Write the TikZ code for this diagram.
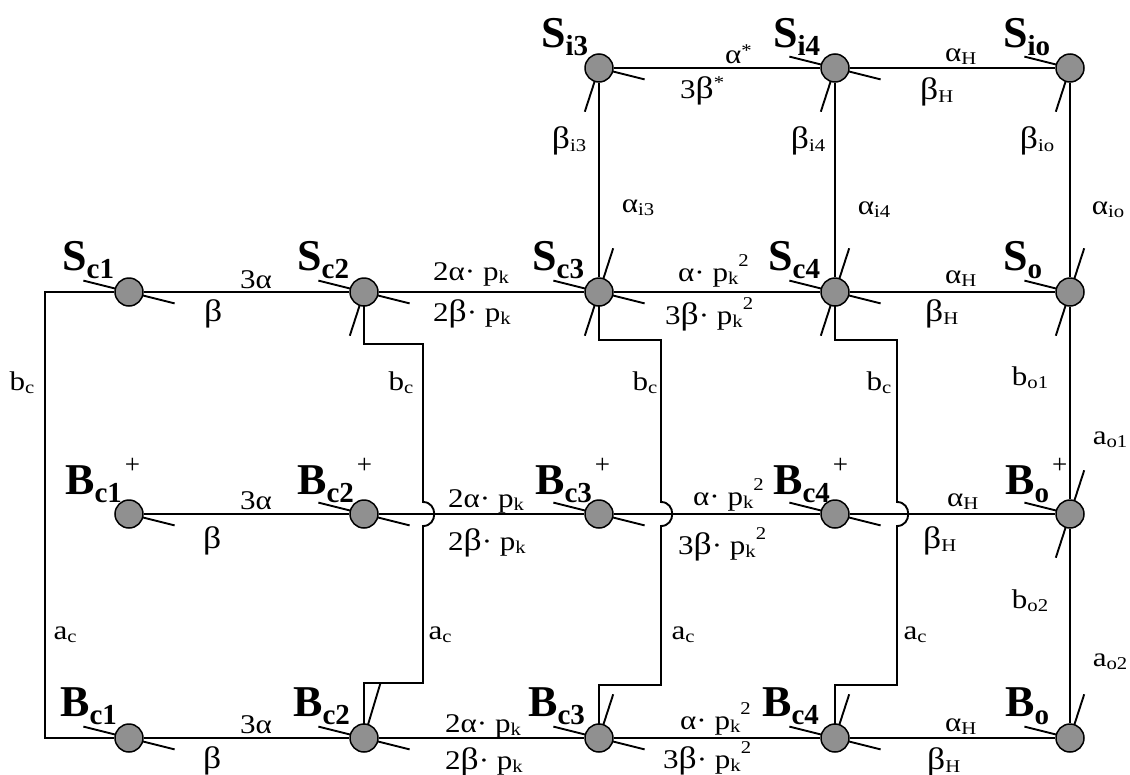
\documentclass[tikz,border=0pt]{standalone}
\usepackage{fontspec}
\usepackage{graphicx}
\setmainfont{Liberation Serif}
\usetikzlibrary{backgrounds}
\definecolor{nodegray}{RGB}{144,144,144}
\newcommand\sbs[1]{\raisebox{-3pt}{\fontsize{18}{18}\selectfont #1}}
\newcommand\sps[1]{\raisebox{15pt}{\fontsize{18}{18}\selectfont #1}}
\newcommand\lt[1]{\scalebox{1.15}[1]{\fontsize{27}{27}\selectfont #1}}
\newcommand\bt{{\fontsize{31}{31}\selectfont β}}
\newcommand\nlab[2]{{\fontsize{44}{44}\selectfont\bfseries #1\raisebox{-8pt}{\fontsize{29}{29}\selectfont #2}}}
\newcommand\nlabp[2]{\nlab{#1}{#2}\hspace{3pt}\raisebox{21pt}{\fontsize{27}{27}\selectfont +}}
\begin{document}
\begin{tikzpicture}[x=1pt,y=-1pt,
  place/.style={circle,minimum size=28pt,inner sep=0pt,fill=nodegray,draw=black,line width=1.5pt},
  wire/.style={line width=1.9pt},
  tickline/.style={line width=1.9pt},
  nlbl/.style={anchor=base west,inner sep=0pt},
  elbl/.style={anchor=base west,inner sep=0pt},
  vlbl/.style={anchor=center,inner sep=0pt}]
\useasboundingbox (0,0) rectangle (1130,774);
% places
\node[place] (Sc1) at (129,292) {};
\node[place] (Sc2) at (364,292) {};
\node[place] (Sc3) at (599,292) {};
\node[place] (Sc4) at (835,292) {};
\node[place] (So)  at (1070,292) {};
\node[place] (Si3) at (599,68) {};
\node[place] (Si4) at (835,68) {};
\node[place] (Sio) at (1070,68) {};
\node[place] (Bp1) at (129,514) {};
\node[place] (Bp2) at (364,514) {};
\node[place] (Bp3) at (599,514) {};
\node[place] (Bp4) at (835,514) {};
\node[place] (Bpo) at (1070,514) {};
\node[place] (Bc1) at (129,738) {};
\node[place] (Bc2) at (364,738) {};
\node[place] (Bc3) at (599,738) {};
\node[place] (Bc4) at (835,738) {};
\node[place] (Bo)  at (1070,738) {};
% corner coordinates
\coordinate (L1) at (45,292);
\coordinate (c2a) at (364,344); \coordinate (c2b) at (423,344);
\coordinate (c2c) at (423,502); \coordinate (c2d) at (423,526);
\coordinate (c2e) at (423,683); \coordinate (c2f) at (364,683);
\coordinate (c3a) at (599,340); \coordinate (c3b) at (661,340);
\coordinate (c3c) at (661,502); \coordinate (c3d) at (661,526);
\coordinate (c3e) at (661,685); \coordinate (c3f) at (599,685);
\coordinate (c4a) at (835,340); \coordinate (c4b) at (897,340);
\coordinate (c4c) at (897,502); \coordinate (c4d) at (897,526);
\coordinate (c4e) at (897,685); \coordinate (c4f) at (835,685);
\begin{pgfonlayer}{background}
% horizontal wires
\draw[wire] (Sc1) -- (Sc2) -- (Sc3) -- (Sc4) -- (So);
\draw[wire] (Si3) -- (Si4) -- (Sio);
\draw[wire] (Bp1) -- (Bp2) -- (Bp3) -- (Bp4) -- (Bpo);
\draw[wire] (Bc1) -- (Bc2) -- (Bc3) -- (Bc4) -- (Bo);
% vertical wires
\draw[wire] (Si3) -- (Sc3);
\draw[wire] (Si4) -- (Sc4);
\draw[wire] (Sio) -- (So) -- (Bpo) -- (Bo);
\draw[wire] (Sc1) -- (L1) |- (Bc1);
\draw[wire] (Sc2.center) -- (c2a) -- (c2b) -- (c2c) .. controls +(15,0) and +(15,0) .. (c2d) -- (c2e) -- (c2f) -- (Bc2.center);
\draw[wire] (Sc3.center) -- (c3a) -- (c3b) -- (c3c) .. controls +(15,0) and +(15,0) .. (c3d) -- (c3e) -- (c3f) -- (Bc3.center);
\draw[wire] (Sc4.center) -- (c4a) -- (c4b) -- (c4c) .. controls +(15,0) and +(15,0) .. (c4d) -- (c4e) -- (c4f) -- (Bc4.center);
% ticks
\foreach \n in {Sc1,Sc2,Sc3,Sc4,So,Si4,Sio,Bp2,Bp3,Bp4,Bpo,Bc1,Bc2,Bc3,Bc4,Bo}
  \draw[tickline] (\n.center) -- ++(-45.6,-11.4);
\foreach \n in {Sc1,Sc2,Sc3,Sc4,Si3,Si4,Bp1,Bp2,Bp3,Bp4,Bc1,Bc2,Bc3,Bc4}
  \draw[tickline] (\n.center) -- ++(45.6,11.4);
\foreach \n in {Sc3,Sc4,So,Bpo,Bc3,Bc4,Bo}
  \draw[tickline] (\n.center) -- ++(14.2,-43.7);
\draw[tickline] (Bc2.center) -- ++(16.5,-55);
\foreach \n in {Sc2,Sc3,Sc4,So,Si3,Si4,Sio,Bpo}
  \draw[tickline] (\n.center) -- ++(-14.2,43.7);
\end{pgfonlayer}
% place labels
\node[nlbl] (lSc1) at (62,270) {\nlab{S}{c1}};
\node[nlbl] (lSc2) at (297,270) {\nlab{S}{c2}};
\node[nlbl] (lSc3) at (532,270) {\nlab{S}{c3}};
\node[nlbl] (lSc4) at (768,270) {\nlab{S}{c4}};
\node[nlbl] (lSo)  at (1003,270) {\nlab{S}{o}};
\node[nlbl] (lSi3) at (541,47) {\nlab{S}{i3}};
\node[nlbl] (lSi4) at (773,47) {\nlab{S}{i4}};
\node[nlbl] (lSio) at (1003,47) {\nlab{S}{io}};
\node[nlbl] (lBp1) at (65,494) {\nlabp{B}{c1}};
\node[nlbl] (lBp2) at (297,494) {\nlabp{B}{c2}};
\node[nlbl] (lBp3) at (535,494) {\nlabp{B}{c3}};
\node[nlbl] (lBp4) at (773,494) {\nlabp{B}{c4}};
\node[nlbl] (lBpo) at (1005,494) {\nlabp{B}{o}};
\node[nlbl] (lBc1) at (60,716) {\nlab{B}{c1}};
\node[nlbl] (lBc2) at (293,716) {\nlab{B}{c2}};
\node[nlbl] (lBc3) at (528,716) {\nlab{B}{c3}};
\node[nlbl] (lBc4) at (762,716) {\nlab{B}{c4}};
\node[nlbl] (lBo)  at (1005,716) {\nlab{B}{o}};
% edge labels: S row
\node[elbl] (e1) at (240,288) {\lt{3α}};
\node[elbl] (e2) at (204,321) {\lt{\bt}};
\node[elbl] (e3) at (433,280) {\lt{2α· p\sbs{k}}};
\node[elbl] (e4) at (433,321) {\lt{2\bt{}· p\sbs{k}}};
\node[elbl] (e5) at (678,281) {\lt{α· p\sbs{k}\sps{2}}};
\node[elbl] (e6) at (665,324) {\lt{3\bt{}· p\sbs{k}\sps{2}}};
\node[elbl] (e7) at (945,283) {\lt{α\sbs{H}}};
\node[elbl] (e8) at (925,321) {\lt{\bt\sbs{H}}};
% top row
\node[elbl] (t1) at (725,63) {\lt{α\raisebox{7pt}{\fontsize{18}{18}\selectfont *}}};
\node[elbl] (t2) at (680,98) {\lt{3\bt\raisebox{10pt}{\fontsize{18}{18}\selectfont *}}};
\node[elbl] (t3) at (945,61) {\lt{α\sbs{H}}};
\node[elbl] (t4) at (920,99) {\lt{\bt\sbs{H}}};
% B+ row
\node[elbl] (p1) at (240,509) {\lt{3α}};
\node[elbl] (p2) at (203,548) {\lt{\bt}};
\node[elbl] (p3) at (448,507) {\lt{2α· p\sbs{k}}};
\node[elbl] (p4) at (448,550) {\lt{2\bt{}· p\sbs{k}}};
\node[elbl] (p5) at (693,505) {\lt{α· p\sbs{k}\sps{2}}};
\node[elbl] (p6) at (678,554) {\lt{3\bt{}· p\sbs{k}\sps{2}}};
\node[elbl] (p7) at (947,506) {\lt{α\sbs{H}}};
\node[elbl] (p8) at (923,548) {\lt{\bt\sbs{H}}};
% B row
\node[elbl] (b1) at (240,733) {\lt{3α}};
\node[elbl] (b2) at (203,768) {\lt{\bt}};
\node[elbl] (b3) at (445,732) {\lt{2α· p\sbs{k}}};
\node[elbl] (b4) at (445,769) {\lt{2\bt{}· p\sbs{k}}};
\node[elbl] (b5) at (680,729) {\lt{α· p\sbs{k}\sps{2}}};
\node[elbl] (b6) at (663,768) {\lt{3\bt{}· p\sbs{k}\sps{2}}};
\node[elbl] (b7) at (945,731) {\lt{α\sbs{H}}};
\node[elbl] (b8) at (927,769) {\lt{\bt\sbs{H}}};
% vertical labels
\node[vlbl] (v1) at (569,141) {\lt{\bt\sbs{i3}}};
\node[vlbl] (v2) at (638,208) {\lt{α\sbs{i3}}};
\node[vlbl] (v3) at (808,141) {\lt{\bt\sbs{i4}}};
\node[vlbl] (v4) at (874,210) {\lt{α\sbs{i4}}};
\node[vlbl] (v5) at (1037,141) {\lt{\bt\sbs{io}}};
\node[vlbl] (v6) at (1108,210) {\lt{α\sbs{io}}};
\node[vlbl] (v7) at (1030,378) {\lt{b\sbs{o1}}};
\node[vlbl] (v8) at (1110,440) {\lt{a\sbs{o1}}};
\node[vlbl] (v9) at (1030,601) {\lt{b\sbs{o2}}};
\node[vlbl] (v10) at (1110,662) {\lt{a\sbs{o2}}};
\node[vlbl] (v11) at (22,383) {\lt{b\sbs{c}}};
\node[vlbl] (v12) at (401,383) {\lt{b\sbs{c}}};
\node[vlbl] (v13) at (645,383) {\lt{b\sbs{c}}};
\node[vlbl] (v14) at (879,383) {\lt{b\sbs{c}}};
\node[vlbl] (v15) at (65,635) {\lt{a\sbs{c}}};
\node[vlbl] (v16) at (440,635) {\lt{a\sbs{c}}};
\node[vlbl] (v17) at (683,635) {\lt{a\sbs{c}}};
\node[vlbl] (v18) at (915,635) {\lt{a\sbs{c}}};
\end{tikzpicture}
\end{document}
